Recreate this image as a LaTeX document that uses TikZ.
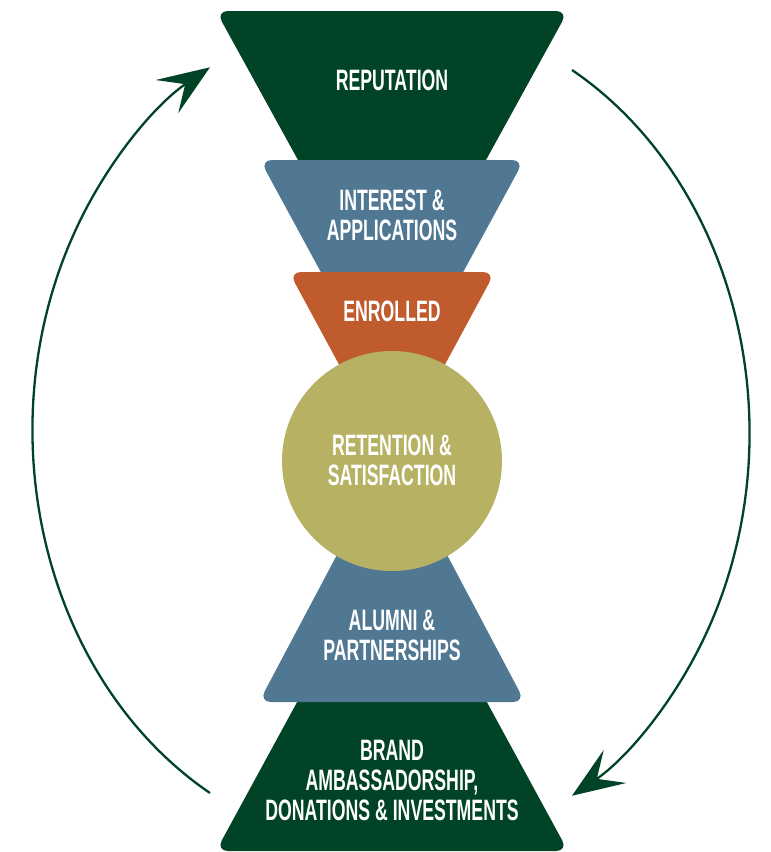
\documentclass[tikz,border=0pt]{standalone}
\usepackage{fontspec}
\newfontfamily\stagefont{Liberation Sans}[FakeStretch=0.6]
\usetikzlibrary{arrows.meta}

\definecolor{deepgreen}{HTML}{004326}
\definecolor{slate}{HTML}{507892}
\definecolor{rust}{HTML}{C05B2D}
\definecolor{olive}{HTML}{B7B263}

\begin{document}
\begin{tikzpicture}[x=1pt,y=-1pt,
    stage/.style={text=white,align=center,inner sep=0pt,font=\stagefont\bfseries\fontsize{29.5}{30}\selectfont},
    band/.style={rounded corners=12pt},
    loop/.style={draw=deepgreen,line width=2.3pt,-{Stealth[length=52pt,width=40pt,inset=22pt]}}
]
\useasboundingbox (0,0) rectangle (771,852);

% funnel bands, back to front
\fill[band,deepgreen] (216,11) -- (568,11) -- (464,200) -- (320,200) -- cycle;
\fill[band,slate]     (260,160) -- (524,160) -- (448,300) -- (336,300) -- cycle;
\fill[band,rust]      (289,272) -- (495,272) -- (415,420) -- (369,420) -- cycle;
\fill[band,deepgreen] (216,851) -- (568,851) -- (464,660) -- (320,660) -- cycle;
\fill[band,slate]     (259,702) -- (525,702) -- (418,500) -- (366,500) -- cycle;
\fill[olive] (392,461) circle[radius=110pt];

\node[stage] (rep)       at (392,80)  {REPUTATION};
\node[stage] (interest)  at (392,215) {INTEREST \&\\APPLICATIONS};
\node[stage] (enrolled)  at (392,311) {ENROLLED};
\node[stage] (retention) at (392,460) {RETENTION \&\\SATISFACTION};
\node[stage] (alumni)    at (392,635) {ALUMNI \&\\PARTNERSHIPS};
\node[stage] (brand)     at (392,780) {BRAND\\AMBASSADORSHIP,\\DONATIONS \& INVESTMENTS};

% the cycle back round
\coordinate (brandW) at (210,793);
\coordinate (repE)   at (572,70);
\draw[loop] (brandW) arc[start angle=240,end angle=120,x radius=355pt,y radius=419pt];
\draw[loop] (repE) arc[start angle=60,end angle=-60,x radius=355pt,y radius=419pt];
\end{tikzpicture}
\end{document}
